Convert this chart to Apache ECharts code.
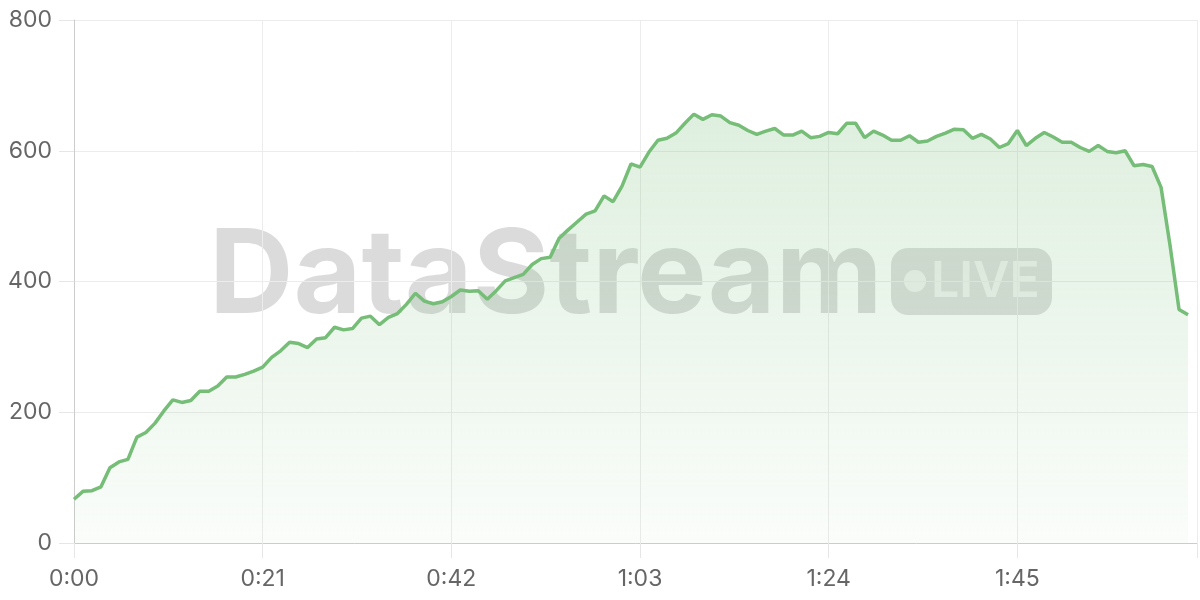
<!DOCTYPE html>
<html>
<head>
<meta charset="utf-8">
<script src="https://cdn.jsdelivr.net/npm/echarts@6/dist/echarts.min.js"></script>
<style>
html,body{margin:0;padding:0;background:#fff;}
#chart{width:1200px;height:600px;}
</style>
</head>
<body>
<div id="chart"></div>
<script>
// Throughput sampled once per second (index = seconds since start)
const values = [
  67, 79, 80, 86, 115, 124, 128, 162, 169, 183,
  202, 219, 215, 218, 232, 232, 240, 254, 254, 258,
  263, 269, 284, 294, 307, 305, 299, 312, 314, 330,
  326, 328, 344, 347, 334, 345, 351, 365, 382, 370,
  366, 369, 377, 387, 385, 386, 373, 386, 401, 406,
  411, 426, 435, 437, 466, 479, 491, 503, 508, 531,
  522, 546, 580, 575, 598, 616, 619, 627, 642, 656,
  648, 655, 653, 643, 639, 631, 625, 630, 634, 624,
  624, 630, 620, 622, 628, 626, 642, 642, 620, 630,
  624, 616, 616, 623, 613, 615, 622, 627, 633, 632,
  619, 625, 618, 605, 611, 631, 608, 619, 628, 621,
  613, 613, 605, 599, 608, 599, 597, 600, 577, 579,
  576, 544, 455, 357, 349
];
const yTicks = [0, 200, 400, 600, 800];
const xTickSeconds = [0, 21, 42, 63, 84, 105];
const watermarkText = 'DataStream';
const badgeText = 'LIVE';

const fmt = s => Math.floor(s / 60) + ':' + String(s % 60).padStart(2, '0');
const chart = echarts.init(document.getElementById('chart'), null, {renderer: 'canvas'});
const green = '#76bd78';
chart.setOption({
  animation: false,
  grid: {left: 74, right: 0, top: 20, bottom: 57, containLabel: false},
  graphic: [
    {type: 'text', z: 0, x: 209, y: 278,
      style: {text: watermarkText, font: 'bold 117px Inter', fill: 'rgba(0,0,0,0.14)', align: 'left', verticalAlign: 'middle'}},
    {type: 'rect', z: 0, shape: {x: 891, y: 248, width: 161, height: 67, r: 17},
      style: {fill: 'rgba(0,0,0,0.13)'}},
    {type: 'circle', z: 0, shape: {cx: 915, cy: 281, r: 11},
      style: {fill: 'rgba(255,255,255,0.6)'}},
    {type: 'text', z: 0, x: 931, y: 282,
      style: {text: badgeText, font: '600 50px Inter', fill: 'rgba(255,255,255,0.6)', align: 'left', verticalAlign: 'middle'}}
  ],
  xAxis: {
    type: 'value', min: 0, max: 125, interval: 21,
    axisLine: {lineStyle: {color: '#cccccc', width: 1}},
    axisTick: {show: true, length: 15, lineStyle: {color: '#e6e6e6'}},
    axisLabel: {color: '#666', fontSize: 23, fontFamily: 'Inter', margin: 25,
      formatter: v => xTickSeconds.includes(v) ? fmt(v) : ''},
    splitLine: {show: true, lineStyle: {color: '#ececec'}}
  },
  yAxis: {
    type: 'value', min: yTicks[0], max: yTicks[yTicks.length - 1], interval: 200,
    axisLine: {show: true, lineStyle: {color: '#cccccc'}},
    axisTick: {show: true, length: 15, lineStyle: {color: '#e6e6e6'}},
    axisLabel: {color: '#666', fontSize: 23, fontFamily: 'Inter', margin: 22},
    splitLine: {show: true, lineStyle: {color: '#ececec'}}
  },
  series: [{
    type: 'line', z: 2,
    data: values.map((v, i) => [i, v]),
    showSymbol: false, symbol: 'none',
    lineStyle: {color: green, width: 3.5},
    itemStyle: {color: green},
    areaStyle: {
      color: new echarts.graphic.LinearGradient(0, 0, 0, 1, [
        {offset: 0, color: 'rgba(118,189,120,0.34)'},
        {offset: 1, color: 'rgba(118,189,120,0.05)'}
      ])
    }
  }]
});
</script>
</body>
</html>
